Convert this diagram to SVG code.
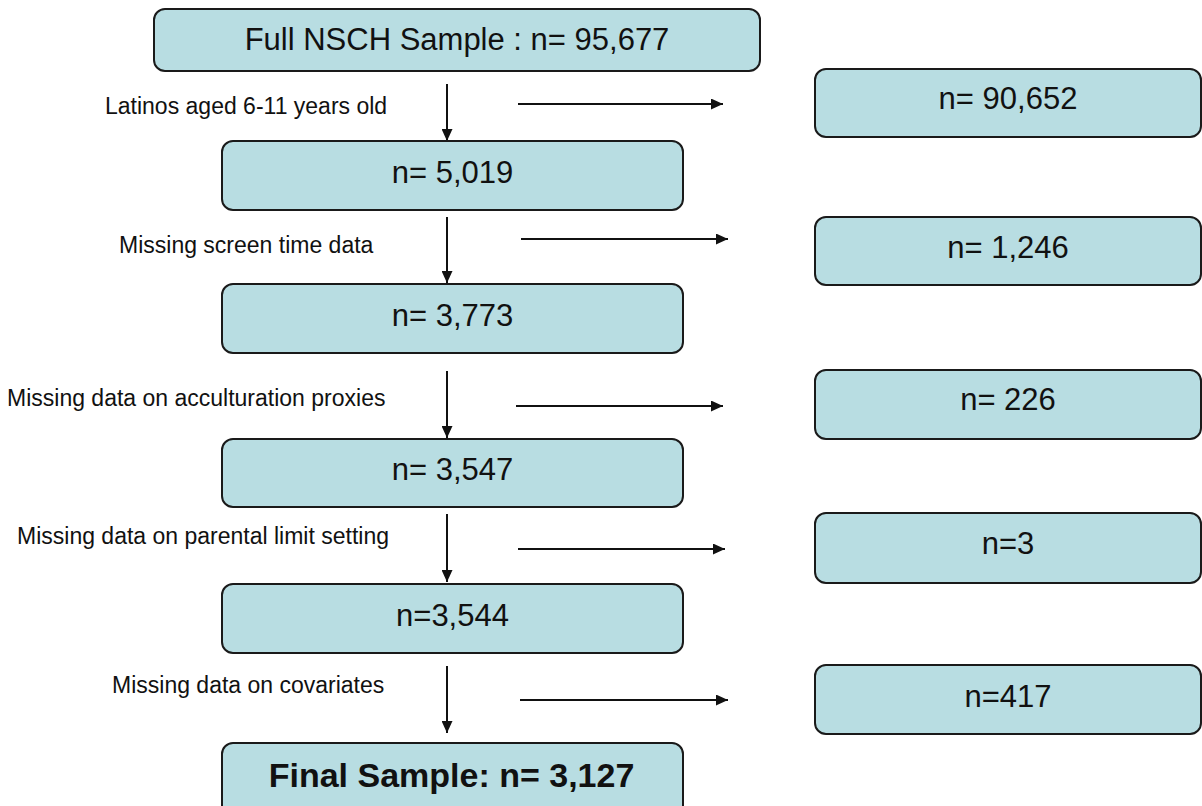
<svg xmlns="http://www.w3.org/2000/svg" width="1202" height="806" viewBox="0 0 1202 806">
<defs>
<style>
.box{fill:#b8dde2;stroke:#1a1a1a;stroke-width:2}
.t{font-family:"Liberation Sans",Arial,sans-serif;font-size:31px;fill:#111;text-anchor:middle}
.tb{font-family:"Liberation Sans",Arial,sans-serif;font-size:34px;font-weight:bold;fill:#111;text-anchor:middle}
.lbl{font-family:"Liberation Sans",Arial,sans-serif;font-size:23px;fill:#111}
.c{stroke:#111;stroke-width:2;fill:none;marker-end:url(#ah)}
</style>
<marker id="ah" markerUnits="userSpaceOnUse" markerWidth="12" markerHeight="11" refX="12" refY="5.5" orient="auto">
<path d="M0,0 L12,5.5 L0,11 z" fill="#111"/>
</marker>
</defs>
<rect width="1202" height="806" fill="#fff"/>
<g id="connectors">
<line class="c" x1="447" y1="84" x2="447" y2="141"/>
<line class="c" x1="447" y1="217" x2="447" y2="283"/>
<line class="c" x1="447" y1="371" x2="447" y2="438"/>
<line class="c" x1="447" y1="514" x2="447" y2="582"/>
<line class="c" x1="447" y1="666" x2="447" y2="733"/>
<line class="c" x1="518" y1="104" x2="723" y2="104"/>
<line class="c" x1="521" y1="239" x2="728" y2="239"/>
<line class="c" x1="516" y1="406" x2="723" y2="406"/>
<line class="c" x1="518" y1="549" x2="725" y2="549"/>
<line class="c" x1="520" y1="700" x2="728" y2="700"/>
</g>
<g id="labels">
<text class="lbl" x="105" y="114">Latinos aged 6-11 years old</text>
<text class="lbl" x="119" y="253">Missing screen time data</text>
<text class="lbl" x="7" y="406">Missing data on acculturation proxies</text>
<text class="lbl" x="17" y="544">Missing data on parental limit setting</text>
<text class="lbl" x="112" y="693">Missing data on covariates</text>
</g>
<g id="n-full">
<rect class="box" x="154" y="9" width="606" height="62" rx="11"/>
<text class="t" x="457" y="50">Full NSCH Sample : n= 95,677</text>
</g>
<g id="n-5019">
<rect class="box" x="222" y="141" width="461" height="69" rx="11"/>
<text class="t" x="452.5" y="183">n= 5,019</text>
</g>
<g id="n-3773">
<rect class="box" x="222" y="284" width="461" height="69" rx="11"/>
<text class="t" x="452.5" y="326">n= 3,773</text>
</g>
<g id="n-3547">
<rect class="box" x="222" y="439" width="461" height="68" rx="11"/>
<text class="t" x="452.5" y="480">n= 3,547</text>
</g>
<g id="n-3544">
<rect class="box" x="222" y="584" width="461" height="69" rx="11"/>
<text class="t" x="452.5" y="626">n=3,544</text>
</g>
<g id="n-final">
<rect class="box" x="222" y="743" width="461" height="80" rx="11"/>
<text class="tb" x="451.5" y="787">Final Sample: n= 3,127</text>
</g>
<g id="x-90652">
<rect class="box" x="815" y="69" width="386" height="68" rx="11"/>
<text class="t" x="1008" y="109">n= 90,652</text>
</g>
<g id="x-1246">
<rect class="box" x="815" y="217" width="386" height="68" rx="11"/>
<text class="t" x="1008" y="258">n= 1,246</text>
</g>
<g id="x-226">
<rect class="box" x="815" y="370" width="386" height="69" rx="11"/>
<text class="t" x="1008" y="410">n= 226</text>
</g>
<g id="x-3">
<rect class="box" x="815" y="513" width="386" height="70" rx="11"/>
<text class="t" x="1008" y="554">n=3</text>
</g>
<g id="x-417">
<rect class="box" x="815" y="665" width="386" height="69" rx="11"/>
<text class="t" x="1008" y="707">n=417</text>
</g>
</svg>
